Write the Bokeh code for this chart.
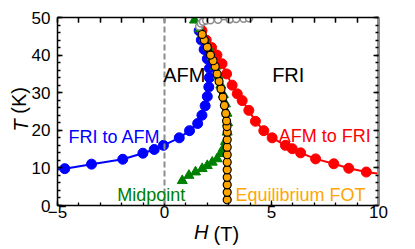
from bokeh.plotting import figure
from bokeh.models import Range1d, LinearAxis, FixedTicker, Label, Span
from bokeh.embed import file_html
from bokeh.resources import INLINE

# ---- data ----
fri_to_afm_H = [-5.3, -4.66, -3.41, -1.95, -1.01, -0.48, -0.05, 0.69, 1.17, 1.55, 1.75, 1.9, 2.0, 2.07, 2.1, 2.1, 2.0, 1.85, 1.72, 1.62]
fri_to_afm_T = [9.4, 9.8, 11.0, 12.3, 13.9, 14.9, 16.0, 18.0, 19.9, 21.8, 24.0, 26.5, 29.0, 31.5, 34.0, 36.5, 39.0, 41.5, 44.0, 46.5]

afm_to_fri_H = [1.75, 1.95, 2.2, 2.45, 2.69, 2.9, 3.16, 3.4, 3.63, 3.94, 4.25, 4.64, 5.03, 5.65, 5.97, 6.36, 7.06, 7.91, 8.61, 9.43, 10.3]
afm_to_fri_T = [46.5, 44.0, 42.0, 40.0, 37.7, 35.0, 32.0, 29.7, 27.9, 25.3, 22.4, 19.9, 18.0, 16.0, 15.1, 14.0, 12.4, 11.1, 9.9, 8.9, 8.2]

midpoint_H = [0.83, 1.14, 1.45, 1.76, 2.0, 2.23, 2.46, 2.62, 2.74, 2.85, 2.93, 2.95, 2.92, 2.85, 2.75, 2.63, 2.5, 2.38, 2.22, 2.05, 1.85, 1.65, 1.4]
midpoint_T = [6.6, 8.0, 8.9, 9.8, 10.6, 11.5, 12.4, 13.8, 15.1, 17.0, 19.5, 22.0, 24.5, 27.0, 29.5, 32.0, 34.5, 37.0, 39.5, 42.0, 44.5, 47.0, 49.3]

fot_H = [2.93, 2.93, 2.93, 2.93, 2.93, 2.93, 2.93, 2.93, 2.93, 2.93, 2.92, 2.9, 2.86, 2.8, 2.73, 2.64, 2.55, 2.46, 2.37, 2.27, 2.15, 2.0, 1.86, 1.76]
fot_T = [1.5, 3.5, 5.5, 7.5, 9.5, 11.5, 13.5, 15.5, 17.5, 19.5, 21.0, 22.5, 24.5, 26.6, 28.8, 31.0, 33.0, 35.0, 37.0, 38.5, 40.0, 42.1, 44.0, 45.5]

top_H = [1.62, 1.7, 1.8, 1.95, 2.15, 2.5, 3.05, 3.35, 3.7, 3.95]
top_T = [47.6, 48.4, 48.9, 49.2, 49.3, 49.4, 49.5, 49.6, 49.7, 49.8]

x_major = [-5, 0, 5, 10]
x_minor = list(range(-5, 11))
y_major = [0, 10, 20, 30, 40, 50]
y_minor = list(range(0, 51, 2))

FONT = "Liberation Sans"
BLUE = "#0000ff"
RED = "#ff0000"
GREEN = "#008000"
ORANGE = "#ffa500"
GREY = "#8c8c8c"
NB = "\u00a0"

W, H = 407, 248
p = figure(width=W, height=H, output_backend="svg", toolbar_location=None,
           x_range=Range1d(-5, 10), y_range=Range1d(0, 50),
           min_border_left=57, min_border_right=W - 378, min_border_top=17, min_border_bottom=H - 205,
           x_axis_location=None, y_axis_location=None)
p.outline_line_color = None
p.grid.visible = False
p.background_fill_color = "white"
p.border_fill_color = "white"


def style_axis(ax, ticks, minor, color="black", lw=1.5, labels=True, minor_in=3, major_in=5):
    ax.ticker = FixedTicker(ticks=ticks, minor_ticks=minor)
    ax.axis_line_color = color
    ax.axis_line_width = lw
    ax.major_tick_line_color = "black"
    ax.minor_tick_line_color = "black"
    ax.major_tick_line_width = 1.3
    ax.minor_tick_line_width = 1.3
    ax.major_tick_in = major_in
    ax.major_tick_out = 0
    ax.minor_tick_in = minor_in
    ax.minor_tick_out = 0
    if labels:
        ax.major_label_text_font = FONT
        ax.major_label_text_font_size = "17px"
        ax.major_label_text_color = "black"
    else:
        ax.major_label_text_font_size = "0px"
        ax.major_label_text_color = None


def title_axis(ax, text, style, standoff):
    ax.axis_label = text
    ax.axis_label_text_font = FONT
    ax.axis_label_text_font_size = "20px"
    ax.axis_label_text_font_style = style
    ax.axis_label_text_color = "black"
    ax.axis_label_standoff = standoff


def blank_axis():
    ax = LinearAxis(ticker=FixedTicker(ticks=[], minor_ticks=[]))
    ax.axis_line_color = None
    ax.major_tick_in = 0
    ax.major_tick_out = 0
    ax.minor_tick_in = 0
    ax.minor_tick_out = 0
    ax.major_label_text_font_size = "0px"
    return ax


bottom = LinearAxis()
style_axis(bottom, x_major, x_minor)
bottom.major_label_standoff = 0
title_axis(bottom, "H" + NB * 6, "italic", 0)
p.add_layout(bottom, "below")

bottom2 = blank_axis()
title_axis(bottom2, NB * 3 + "(T)", "normal", -23)
p.add_layout(bottom2, "below")

left = LinearAxis()
style_axis(left, y_major, y_minor)
left.major_label_standoff = 7
title_axis(left, "T" + NB * 5, "italic", -3)
p.add_layout(left, "left")

left2 = blank_axis()
title_axis(left2, NB * 4 + "(K)", "normal", -23)
p.add_layout(left2, "left")

top = LinearAxis()
style_axis(top, x_minor, x_minor, labels=False, minor_in=5, major_in=5)
p.add_layout(top, "above")

right = LinearAxis()
style_axis(right, y_major, y_minor, color=GREY, lw=3, labels=False, minor_in=3, major_in=5)
p.add_layout(right, "right")

# dashed line at H = 0
p.add_layout(Span(location=0, dimension="height", line_color=GREY, line_width=2, line_dash="6 3"))

# FRI to AFM
p.line(fri_to_afm_H, fri_to_afm_T, line_color=BLUE, line_width=2)
p.scatter(fri_to_afm_H, fri_to_afm_T, marker="circle", size=10, fill_color=BLUE, line_color=BLUE)

# AFM to FRI
p.line(afm_to_fri_H, afm_to_fri_T, line_color=RED, line_width=2)
p.scatter(afm_to_fri_H, afm_to_fri_T, marker="circle", size=10, fill_color=RED, line_color=RED)

# Midpoint
p.line(midpoint_H, midpoint_T, line_color=GREEN, line_width=1.5)
p.scatter(midpoint_H, midpoint_T, marker="triangle", size=10, fill_color=GREEN, line_color=GREEN)

# Equilibrium FOT
p.line(fot_H, fot_T, line_color="black", line_width=6)
p.scatter(fot_H, fot_T, marker="circle", size=8, fill_color=ORANGE, line_color="black", line_width=1.2)

# grey open circles at top
p.line(top_H, top_T, line_color=GREY, line_width=1.5)
p.scatter(top_H, top_T, marker="circle", size=7, fill_color="white", line_color=GREY, line_width=1.5)


def lab(x, y, t, color, size):
    p.add_layout(Label(x=x, y=y, text=t, text_color=color, text_font=FONT,
                       text_font_size=size, text_align="left", text_baseline="alphabetic"))

lab(-0.06, 34.8, "AFM", "black", "20px")
lab(5.03, 34.8, "FRI", "black", "20px")
lab(-4.49, 18.2, "FRI to AFM", BLUE, "18px")
lab(5.34, 18.4, "AFM to FRI", RED, "18px")
lab(-2.21, 2.7, "Midpoint", GREEN, "18px")
lab(3.32, 2.7, "Equilibrium FOT", ORANGE, "18px")

open("out.html", "w").write(file_html(p, INLINE))
